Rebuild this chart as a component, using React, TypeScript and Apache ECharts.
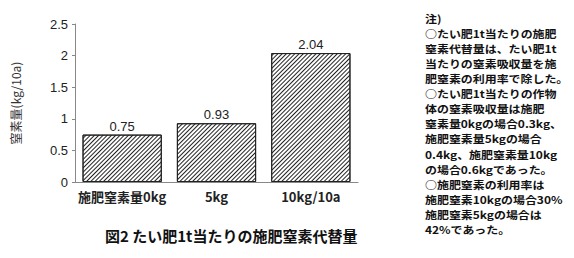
import React, { useEffect, useRef } from "react";
import * as echarts from "echarts";

const categories = ["施肥窒素量0kg", "5kg", "10kg/10a"];
const values = [0.75, 0.93, 2.04];
const yTicks = [0, 0.5, 1, 1.5, 2, 2.5];
const yAxisName = "窒素量(kg/10a)";
const caption = "図2 たい肥1t当たりの施肥窒素代替量";
const notes = [
  "注)",
  "○たい肥1t当たりの施肥",
  "窒素代替量は、たい肥1t",
  "当たりの窒素吸収量を施",
  "肥窒素の利用率で除した。",
  "○たい肥1t当たりの作物",
  "体の窒素吸収量は施肥",
  "窒素量0kgの場合0.3kg、",
  "施肥窒素量5kgの場合",
  "0.4kg、施肥窒素量10kg",
  "の場合0.6kgであった。",
  "○施肥窒素の利用率は",
  "施肥窒素10kgの場合30%",
  "施肥窒素5kgの場合は",
  "42%であった。",
];

const FONT = "'Noto Sans CJK JP', sans-serif";

export default function App() {
  const ref = useRef<HTMLDivElement>(null);
  useEffect(() => {
    if (!ref.current) return;
    const chart = echarts.init(ref.current, null, { renderer: "svg" });
    chart.setOption({
      animation: false,
      backgroundColor: "#fff",
      grid: { left: 75, right: 216, top: 24, bottom: 76 },
      xAxis: {
        type: "category",
        data: categories,
        axisLine: { lineStyle: { color: "#888", width: 1 } },
        axisTick: { show: false },
        axisLabel: {
          interval: 0,
          color: "#222",
          fontSize: 13,
          fontWeight: "bold",
          fontFamily: FONT,
          margin: 8,
        },
      },
      yAxis: {
        type: "value",
        min: yTicks[0],
        max: yTicks[yTicks.length - 1],
        interval: yTicks[1] - yTicks[0],
        name: yAxisName,
        nameLocation: "middle",
        nameRotate: 90,
        nameGap: 54,
        nameTextStyle: { color: "#333", fontSize: 12, fontFamily: FONT },
        splitLine: { show: false },
        axisLine: { show: true, lineStyle: { color: "#888", width: 1 } },
        axisTick: { show: true, length: 3, lineStyle: { color: "#888" } },
        axisLabel: {
          color: "#222",
          fontSize: 13,
          fontFamily: "'Liberation Sans', Arial, sans-serif",
          margin: 7,
        },
      },
      series: [
        {
          type: "bar",
          data: values,
          barCategoryGap: "16%",
          itemStyle: {
            color: "#fff",
            borderColor: "#222",
            borderWidth: 1,
            decal: {
              symbol: "rect",
              symbolSize: 1,
              color: "#222",
              backgroundColor: "#fff",
              dashArrayX: [1, 0],
              dashArrayY: [1, 2],
              rotation: -Math.PI / 4,
            },
          },
          label: {
            show: true,
            position: "top",
            distance: 2,
            color: "#222",
            fontSize: 13,
            fontFamily: "'Liberation Sans', Arial, sans-serif",
          },
        },
      ],
      graphic: [
        {
          type: "text",
          left: 105,
          top: 228,
          style: {
            text: caption,
            fontSize: 15,
            fontWeight: "bold",
            fontFamily: FONT,
            fill: "#111",
          },
        },
        ...notes.map((line, i) => ({
          type: "text",
          x: 425,
          y: 18 + i * 15.1,
          scaleX: 1.15,
          style: {
            text: line,
            fontSize: 10.4,
            fontWeight: "bold",
            fontFamily: FONT,
            fill: "#111",
            verticalAlign: "middle",
            align: "left",
          },
        })),
      ],
    });
    return () => chart.dispose();
  }, []);
  return <div ref={ref} style={{ width: 574, height: 258, position: "absolute", left: 0, top: 0 }} />;
}
